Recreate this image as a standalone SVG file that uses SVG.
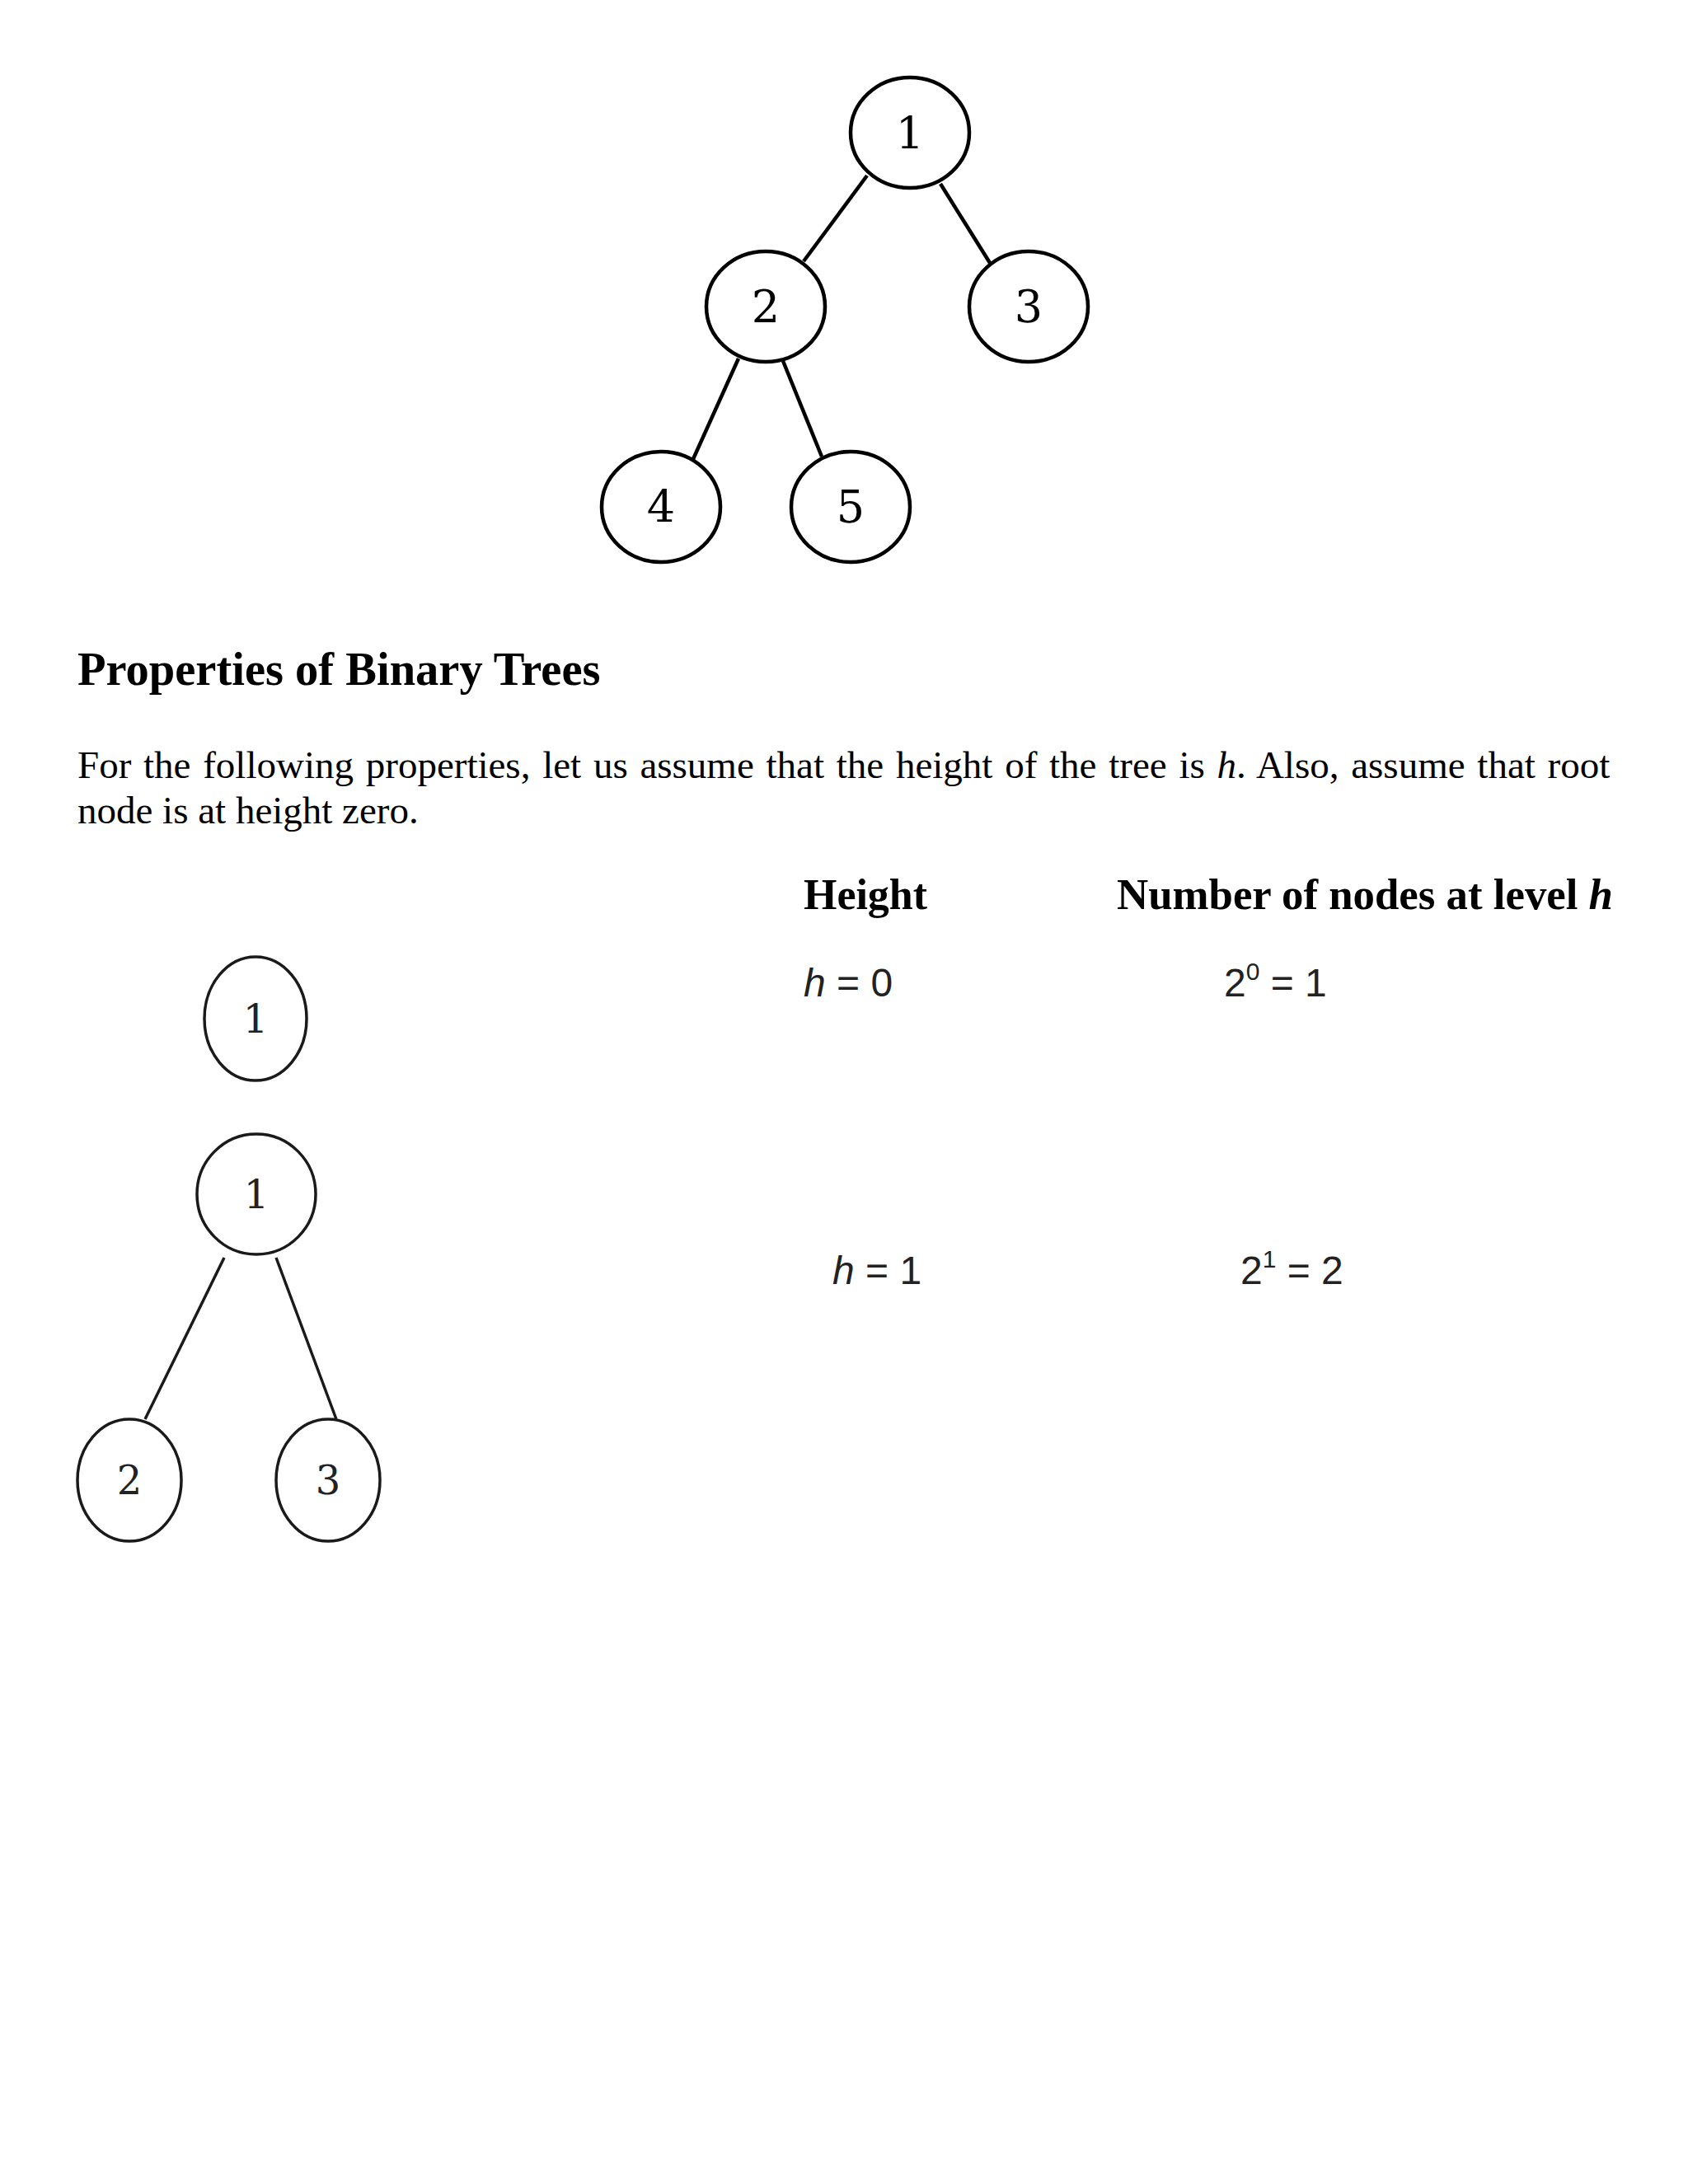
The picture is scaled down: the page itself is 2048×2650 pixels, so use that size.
<svg xmlns="http://www.w3.org/2000/svg" width="2048" height="2650" viewBox="0 0 2048 2650">
<style>
.n1{fill:#fff;stroke:#000;stroke-width:4.5}
.n2{fill:#fff;stroke:#1a1a1a;stroke-width:3.5}
.e1{stroke:#000;stroke-width:4.5;fill:none}
.e2{stroke:#1a1a1a;stroke-width:3.5;fill:none}
.d1{font-family:"DejaVu Serif",serif;font-size:54px;fill:#000;text-anchor:middle}
.d2{font-family:"DejaVu Serif",serif;font-size:48px;fill:#222;text-anchor:middle}
.title{font-family:"Liberation Serif",serif;font-size:56.5px;font-weight:bold;fill:#000}
.body{font-family:"Liberation Serif",serif;font-size:47px;fill:#000}
.hdr{font-family:"Liberation Serif",serif;font-size:52px;font-weight:bold;fill:#000}
.math{font-family:"Liberation Sans",sans-serif;font-size:48px;fill:#222}
</style>
<rect width="2048" height="2650" fill="#fff"/>
<g id="connectors">
<line class="e1" x1="1052" y1="213" x2="975" y2="317"/>
<line class="e1" x1="1141" y1="223" x2="1201" y2="319"/>
<line class="e1" x1="896" y1="435" x2="841" y2="557"/>
<line class="e1" x1="950" y1="438" x2="997" y2="554"/>
<line class="e2" x1="272" y1="1526" x2="176" y2="1722"/>
<line class="e2" x1="335" y1="1526" x2="408" y2="1722"/>
</g>
<g id="t1-node1"><ellipse class="n1" cx="1104" cy="161" rx="72" ry="67"/><text class="d1" x="1104" y="181">1</text></g>
<g id="t1-node2"><ellipse class="n1" cx="929" cy="372" rx="72" ry="67"/><text class="d1" x="929" y="391">2</text></g>
<g id="t1-node3"><ellipse class="n1" cx="1248" cy="372" rx="72" ry="67"/><text class="d1" x="1248" y="391">3</text></g>
<g id="t1-node4"><ellipse class="n1" cx="802" cy="615" rx="72" ry="67"/><text class="d1" x="802" y="634">4</text></g>
<g id="t1-node5"><ellipse class="n1" cx="1032" cy="615" rx="72" ry="67"/><text class="d1" x="1032" y="634">5</text></g>
<text class="title" x="94" y="831">Properties of Binary Trees</text>
<text class="body" x="94" y="944" word-spacing="3">For the following properties, let us assume that the height of the tree is <tspan font-style="italic">h</tspan>. Also, assume that root</text>
<text class="body" x="94" y="999">node is at height zero.</text>
<g id="t2-node1"><ellipse class="n2" cx="310" cy="1236" rx="62" ry="75"/><text class="d2" x="310" y="1253">1</text></g>
<g id="t3-node1"><ellipse class="n2" cx="311" cy="1449" rx="72" ry="73"/><text class="d2" x="311" y="1466">1</text></g>
<g id="t3-node2"><ellipse class="n2" cx="157" cy="1796" rx="63" ry="74"/><text class="d2" x="157" y="1813">2</text></g>
<g id="t3-node3"><ellipse class="n2" cx="398" cy="1796" rx="63" ry="74"/><text class="d2" x="398" y="1813">3</text></g>
<text class="hdr" x="975" y="1103" textLength="150" lengthAdjust="spacingAndGlyphs">Height</text>
<text class="hdr" x="1355" y="1103" textLength="602" lengthAdjust="spacingAndGlyphs">Number of nodes at level <tspan font-style="italic">h</tspan></text>
<text class="math" x="975" y="1209"><tspan font-style="italic">h</tspan> = 0</text>
<text class="math" x="1485" y="1209">2<tspan font-size="30px" dy="-20">0</tspan><tspan dy="20"> = 1</tspan></text>
<text class="math" x="1010" y="1558"><tspan font-style="italic">h</tspan> = 1</text>
<text class="math" x="1505" y="1558">2<tspan font-size="30px" dy="-20">1</tspan><tspan dy="20"> = 2</tspan></text>
</svg>
